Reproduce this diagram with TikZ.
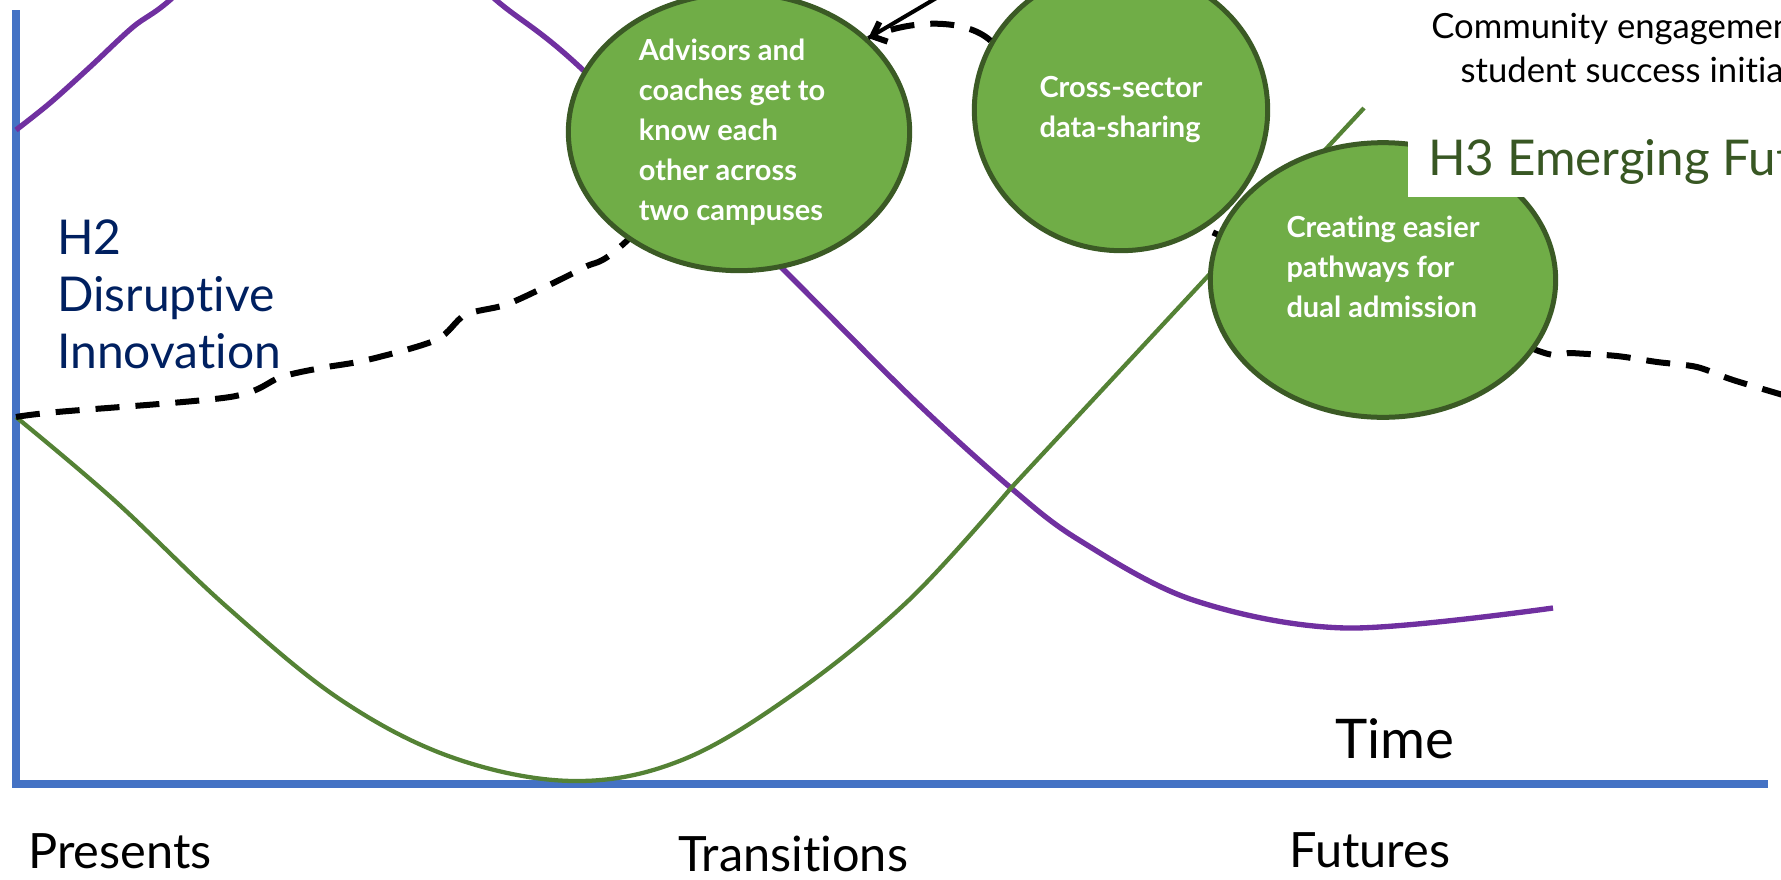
\documentclass[tikz,border=0pt]{standalone}
\usepackage{fontspec}
\setmainfont{Lato}[Ligatures={NoCommon}]
\usetikzlibrary{positioning,shapes.geometric,arrows.meta,backgrounds}

\definecolor{axisblue}{HTML}{4472C4}
\definecolor{hpurple}{HTML}{7030A0}
\definecolor{hgreen}{HTML}{548235}
\definecolor{bubblefill}{HTML}{70AD47}
\definecolor{bubbleedge}{HTML}{3B5A25}
\definecolor{htwonavy}{HTML}{002060}
\definecolor{hthreegreen}{HTML}{385723}

\tikzset{
	bubble/.style={ellipse, draw=bubbleedge, fill=bubblefill, line width=3.75pt, inner sep=0pt, text=white, align=left, font=\bfseries\fontsize{21.75}{30}\selectfont},
	axisline/.style={draw=axisblue, line width=6.2pt},
	dashline/.style={draw=black, line width=4.5pt, dash pattern=on 18pt off 12pt},
	phase/.style={inner sep=0pt, anchor=base west, font=\fontsize{36.5}{43}\selectfont},
}

\begin{document}
\begin{tikzpicture}[x=0.75pt,y=-0.75pt]
		\useasboundingbox (0,0) rectangle (1781,879);
		\clip (0,0) rectangle (1781,879);
		
		\coordinate (ytop) at (16,10);
		\coordinate (orig) at (12,784);
		\coordinate (xend) at (1768,784);
		\coordinate (start) at (16,417);
		\coordinate (topsrc) at (950,-10);
		
		\node[bubble, minimum width=256pt, minimum height=208pt] (advisors) at (739,132) {Advisors and\\coaches get to\\know each\\other across\\two campuses\hspace*{12pt}};
		\node[bubble, minimum width=220pt, minimum height=211pt] (datashare) at (1121,110) {Cross-sector\\data-sharing};
		\node[bubble, minimum width=259pt, minimum height=206pt] (pathways) at (1383,280) {Creating easier\\pathways for\\dual admission\hspace*{6pt}\\[-10pt]\mbox{}};
		
		\begin{scope}[on background layer]
		\draw[axisline] (ytop)--(ytop|-orig);
		\draw[axisline] (orig)--(xend);
		\draw[hpurple, line width=4pt] plot[smooth, tension=0.55] coordinates {(16,130) (50,103) (90,67) (133,27) (170,0) (250,-75) (330,-100) (420,-70) (496,0) (583,70) (786,272) (914,400) (1011,488) (1079,540) (1193,600) (1346,628) (1553,608)};
		\draw[hgreen, line width=3.2pt] plot[smooth, tension=0.6] coordinates {(start) (114,500) (227,607) (341,700) (454,758) (574,781) (682,760) (795,693) (909,600) (1011,488)}--(1364,108);
		\draw[dashline] plot[smooth, tension=0.5] coordinates {(start) (57,412) (230,397) (281,377) (321,368) (367,360) (436,340) (465,315) (505,305) (545,287) (585,267) (620,247) (advisors.center)};
		\draw[dashline] (datashare.center) .. controls (1150,250) and (1250,240) .. (pathways.center);
		\draw[dashline] plot[smooth, tension=0.5] coordinates {(pathways.center) (1536,350) (1572,353) (1617,356) (1657,362) (1697,367) (1733,380) (1800,400)};
		\end{scope}
		
		\draw[dashline, -{Straight Barb[length=9pt, width=16pt]}] (datashare.152) .. controls (965,18) and (912,20) .. (advisors.36);
		\draw[black, line width=3pt] (topsrc)--(advisors.36);
		
		\node[fill=white, text=hthreegreen, font=\fontsize{37}{42}\selectfont, inner xsep=15pt, inner ysep=10pt, anchor=base west] (hthree) at (1408,175) {H3 Emerging Futures};
		\node[text=htwonavy, font=\fontsize{36}{42.75}\selectfont, align=left, anchor=north west, inner sep=0pt] (htwo) at (57,219) {H2\\Disruptive\\Innovation};
		\node[font=\fontsize{26}{33}\selectfont, align=left, anchor=north west, inner sep=0pt] (community) at (1431,13) {Community engagement\\\hspace*{22pt}student success initiatives};
		
		\node[phase, font=\fontsize{41}{48}\selectfont] (time) at (1335,758) {Time};
		\node[phase] (presents) at (28,868) {Presents};
		\node[phase] (transitions) at (678,871) {Transitions};
		\node[phase] (futures) at (1289,867) {Futures};
	\end{tikzpicture}
\end{document}
